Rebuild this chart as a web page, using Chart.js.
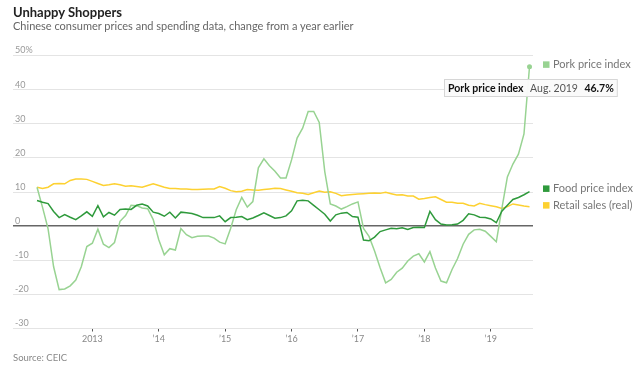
<!DOCTYPE html>
<html>
<head>
<meta charset="utf-8">
<script src="https://cdn.jsdelivr.net/npm/chart.js@4.4.1/dist/chart.umd.min.js"></script>
<style>
html,body{margin:0;padding:0;background:#fff;width:640px;height:371px;overflow:hidden;font-family:Lato,sans-serif}
#wrap{position:relative;width:640px;height:371px}
#c{position:absolute;left:0;top:0}
.t{position:absolute;left:13px;white-space:nowrap;line-height:1}
#title{top:6px;font-size:13px;font-weight:bold;color:#222}
#sub{top:20px;font-size:11px;color:#666}
#src{top:353px;font-size:9.5px;color:#888}
</style>
</head>
<body>
<div id="wrap">
<canvas id="c" width="640" height="371"></canvas>
<div class="t" id="title">Unhappy Shoppers</div>
<div class="t" id="sub">Chinese consumer prices and spending data, change from a year earlier</div>
<div class="t" id="src">Source: CEIC</div>
</div>
<script>
const months = [
'Mar. 2012','Apr. 2012','May 2012','June 2012','July 2012','Aug. 2012','Sept. 2012','Oct. 2012','Nov. 2012','Dec. 2012',
'Jan. 2013','Feb. 2013','Mar. 2013','Apr. 2013','May 2013','June 2013','July 2013','Aug. 2013','Sept. 2013','Oct. 2013','Nov. 2013','Dec. 2013',
'Jan. 2014','Feb. 2014','Mar. 2014','Apr. 2014','May 2014','June 2014','July 2014','Aug. 2014','Sept. 2014','Oct. 2014','Nov. 2014','Dec. 2014',
'Jan. 2015','Feb. 2015','Mar. 2015','Apr. 2015','May 2015','June 2015','July 2015','Aug. 2015','Sept. 2015','Oct. 2015','Nov. 2015','Dec. 2015',
'Jan. 2016','Feb. 2016','Mar. 2016','Apr. 2016','May 2016','June 2016','July 2016','Aug. 2016','Sept. 2016','Oct. 2016','Nov. 2016','Dec. 2016',
'Jan. 2017','Feb. 2017','Mar. 2017','Apr. 2017','May 2017','June 2017','July 2017','Aug. 2017','Sept. 2017','Oct. 2017','Nov. 2017','Dec. 2017',
'Jan. 2018','Feb. 2018','Mar. 2018','Apr. 2018','May 2018','June 2018','July 2018','Aug. 2018','Sept. 2018','Oct. 2018','Nov. 2018','Dec. 2018',
'Jan. 2019','Feb. 2019','Mar. 2019','Apr. 2019','May 2019','June 2019','July 2019','Aug. 2019'
];

const porkIndex = [
11.4, 5.5, -0.8, -11.9, -18.6, -18.4, -17.5, -15.8, -11.9, -6.0,
-5.0, -0.9, -5.3, -6.3, -4.8, 1.4, 3.1, 6.1, 6.0, 5.3,
5.1, 1.9, -4.0, -8.4, -6.6, -7.0, -0.7, -2.5, -3.4, -3.0,
-2.9, -2.9, -3.5, -4.7, -5.2, -0.6, 4.8, 8.4, 5.6, 7.2,
17.1, 19.7, 17.7, 16.1, 14.1, 14.1, 19.4, 25.8, 28.7, 33.6,
33.6, 30.4, 16.0, 6.5, 5.9, 5.0, 5.7, 6.5, 7.1, -0.7,
-3.0, -7.3, -12.2, -16.6, -15.6, -13.5, -12.3, -10.2, -8.8, -8.1,
-10.5, -7.5, -12.3, -16.1, -16.6, -12.7, -9.5, -5.3, -2.4, -1.1,
-0.9, -1.5, -3.0, -4.6, 5.1, 14.4, 18.2, 21.1, 27.0, 46.7
];

const foodIndex = [
7.5, 7.0, 6.6, 4.3, 2.5, 3.4, 2.6, 1.9, 3.0, 4.2,
2.9, 6.0, 2.7, 4.0, 3.2, 4.9, 5.0, 4.9, 6.1, 6.5,
5.9, 4.1, 3.7, 2.9, 4.1, 2.4, 4.1, 3.9, 3.7, 3.2,
2.5, 2.5, 2.5, 3.0, 1.3, 2.5, 2.6, 2.8, 1.9, 2.4,
3.1, 3.9, 3.1, 2.3, 2.5, 3.0, 4.5, 7.4, 7.6, 7.4,
6.1, 4.8, 3.5, 1.5, 3.3, 3.8, 4.0, 2.8, 2.6, -4.1,
-4.3, -3.2, -1.6, -1.1, -0.6, -0.8, -0.5, -1.0, -0.4, -0.3,
-0.4, 4.3, 1.9, 0.6, 0.3, 0.4, 0.6, 1.7, 3.6, 3.3,
2.6, 2.5, 2.1, 1.0, 4.4, 6.1, 7.8, 8.4, 9.2, 10.1
];

const retailSales = [
11.4, 11.0, 11.4, 12.4, 12.5, 12.4, 13.4, 13.8, 13.8, 13.7,
13.1, 12.5, 11.9, 12.1, 12.4, 12.1, 11.7, 11.8, 11.6, 11.4,
11.9, 12.4, 11.9, 11.4, 11.0, 11.0, 10.9, 10.9, 10.7, 10.7,
10.8, 10.9, 10.9, 11.6, 11.1, 10.4, 10.1, 10.2, 10.7, 10.6,
10.5, 10.7, 10.9, 11.1, 11.0, 10.6, 10.2, 9.8, 9.6, 9.3,
9.8, 10.3, 9.9, 10.1, 9.6, 8.9, 9.1, 9.3, 9.4, 9.5,
9.6, 9.7, 9.6, 9.9, 9.5, 9.1, 9.2, 8.8, 8.8, 7.9,
8.1, 8.4, 8.6, 7.8, 7.0, 7.0, 6.7, 6.7, 6.1, 5.9,
6.7, 6.3, 6.0, 5.7, 5.2, 5.7, 6.5, 6.2, 5.9, 5.7
];

const yearTickMonths = ['Jan. 2013','Jan. 2014','Jan. 2015','Jan. 2016','Jan. 2017','Jan. 2018','Jan. 2019'];
const yearTickLabels = ['2013','\u201914','\u201915','\u201916','\u201917','\u201918','\u201919'];
const yTickValues = [-30,-20,-10,0,10,20,30,40,50];

const seriesNames = ['Food price index','Pork price index','Retail sales (real)'];
const COLORS = {food:'#2f9a3c', pork:'#98d392', retail:'#fdd131'};
const FONT = 'Lato, sans-serif';
const last = months.length - 1;
const toXY = arr => arr.map((v,i)=>({x:i,y:v}));
const yearTickIdx = yearTickMonths.map(m => months.indexOf(m));

const endLabels = {
  id:'endLabels',
  afterDraw(chart){
    const {ctx, chartArea, scales:{y}} = chart;
    const items = chart.data.datasets.map(ds => ({label:ds.label, color:ds.borderColor,
      y: y.getPixelForValue(ds.data[ds.data.length-1].y) - 2.2}));
    items.sort((a,b)=>a.y-b.y);
    const gap = 16.7;
    for (let it=0; it<60; it++){
      for (let k=1;k<items.length;k++){
        const d = items[k].y - items[k-1].y;
        if (d < gap){ const s=(gap-d)/2; items[k].y += s; items[k-1].y -= s; }
      }
    }
    ctx.save();
    ctx.font = '11px ' + FONT;
    ctx.textBaseline = 'middle';
    ctx.textAlign = 'left';
    items.forEach(it=>{
      ctx.fillStyle = it.color;
      ctx.fillRect(chartArea.right + 10, it.y - 3.2, 6.5, 6.5);
      ctx.fillStyle = '#777';
      ctx.fillText(it.label, chartArea.right + 20, it.y);
    });
    ctx.restore();
  }
};

const endTooltip = {
  id:'endTooltip',
  afterDraw(chart){
    const {ctx} = chart;
    const dsIndex = chart.data.datasets.findIndex(d=>d.label==='Pork price index');
    const meta = chart.getDatasetMeta(dsIndex);
    const pt = meta.data[last];
    const t1 = chart.data.datasets[dsIndex].label;
    const t2 = months[last];
    const t3 = porkIndex[last].toFixed(1) + '%';
    ctx.save();
    const bold = 'bold 10.5px ' + FONT, reg = '10.5px ' + FONT;
    ctx.font = bold; const w1 = ctx.measureText(t1).width; const w3 = ctx.measureText(t3).width;
    ctx.font = reg; const w2 = ctx.measureText(t2).width;
    const padL = 3.5, gap = 6.5, padR = 3.5;
    const bx = Math.round(pt.x - 86) + 0.5, by = Math.round(pt.y + 12.5) + 0.5;
    const bw = padL + w1 + gap + w2 + gap + w3 + padR, bh = 17;
    ctx.fillStyle = 'rgba(250,250,250,0.97)';
    ctx.fillRect(bx, by, bw, bh);
    ctx.strokeStyle = '#d6d6d6';
    ctx.lineWidth = 1;
    ctx.strokeRect(bx, by, bw, bh);
    ctx.textBaseline = 'middle';
    const ty = by + bh/2 + 0.5;
    ctx.font = bold; ctx.fillStyle = '#111';
    ctx.fillText(t1, bx + padL, ty);
    ctx.font = reg; ctx.fillStyle = '#555';
    ctx.fillText(t2, bx + padL + w1 + gap, ty);
    ctx.font = bold; ctx.fillStyle = '#111';
    ctx.fillText(t3, bx + padL + w1 + gap + w2 + gap, ty);
    ctx.restore();
  }
};

const lineDs = (label, arr, color, extra) => Object.assign({
  label, data: toXY(arr), borderColor: color, backgroundColor: color,
  borderWidth: 1.5, pointRadius: 0, pointHoverRadius: 0, tension: 0, fill: false
}, extra || {});

new Chart(document.getElementById('c'), {
  type:'line',
  data:{ datasets:[
    lineDs(seriesNames[0], foodIndex, COLORS.food),
    lineDs(seriesNames[1], porkIndex, COLORS.pork, {
      pointRadius: c => c.dataIndex === last ? 2.5 : 0,
      pointBackgroundColor: COLORS.pork, pointBorderWidth: 0
    }),
    lineDs(seriesNames[2], retailSales, COLORS.retail)
  ]},
  options:{
    responsive:false, animation:false, devicePixelRatio:1,
    events:[],
    layout:{ padding:{ left:13, right:107, top:55.5, bottom:24.5 } },
    plugins:{ legend:{display:false}, tooltip:{enabled:false}, title:{display:false} },
    scales:{
      x:{
        type:'linear', min:-4.34, max:89.63,
        afterBuildTicks: s => { s.ticks = yearTickIdx.map(v=>({value:v})); },
        afterFit: s => { s.height = 18; },
        ticks:{
          autoSkip:false, maxRotation:0, padding:2, color:'#888',
          font:{family:FONT, size:9},
          callback: v => yearTickLabels[yearTickIdx.indexOf(v)]
        },
        grid:{ drawOnChartArea:false, drawTicks:true, tickLength:3, color:'#555', lineWidth:1 },
        border:{ display:false }
      },
      y:{
        min:-30, max:50,
        afterBuildTicks: s => { s.ticks = yTickValues.map(v=>({value:v})); },
        afterFit: s => { s.width = 0; },
        ticks:{
          mirror:true, padding:2, labelOffset:-5, color:'#999',
          font:{family:FONT, size:9},
          callback: v => v === 50 ? '50%' : String(v)
        },
        grid:{
          drawTicks:false,
          color: c => c.tick && c.tick.value === 0 ? '#666' : '#e4e4e4',
          lineWidth: c => c.tick && c.tick.value === 0 ? 1.5 : 1
        },
        border:{ display:false }
      }
    }
  },
  plugins:[endLabels, endTooltip]
});
</script>
</body>
</html>
